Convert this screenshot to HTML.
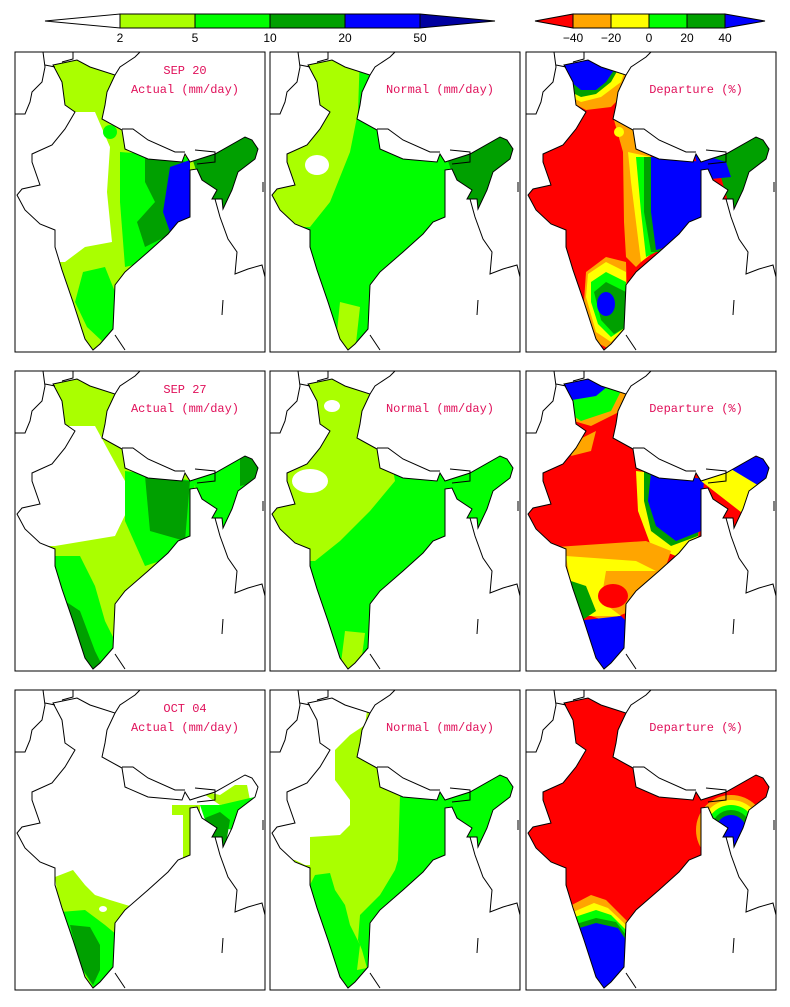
<!DOCTYPE html>
<html><head><meta charset="utf-8"><style>
body{margin:0;background:#fff;}
svg{display:block;font-family:"Liberation Mono","DejaVu Sans Mono",monospace;}
.t{fill:#e0105a;font-size:12px;text-anchor:middle;}
.cb{font-size:12px;fill:#000;text-anchor:middle;font-family:"Liberation Sans",sans-serif;}
.ol{fill:none;stroke:#000;stroke-width:1;}
</style></head><body>
<svg width="790" height="1007" viewBox="0 0 790 1007" xmlns="http://www.w3.org/2000/svg">
<defs>
<path id="ind" d="M38,13 L62,8 L75,15 L100,23 L92,40 L90,53 L87,67 L107,78 L110,97 L133,107 L167,110 L170,102 L175,110 L200,102 L230,85 L237,88 L243,97 L240,107 L223,120 L217,138 L208,157 L207,147 L197,147 L202,138 L187,128 L182,117 L175,118 L175,165 L163,170 L153,182 L133,200 L110,220 L100,233 L98,277 L85,292 L78,298 L70,287 L58,250 L47,218 L40,195 L40,178 L25,172 L10,158 L2,143 L7,137 L25,133 L17,110 L17,102 L37,93 L50,77 L60,60 L50,53 L47,30 Z"/>
<clipPath id="cl"><use href="#ind"/></clipPath>
<g id="nb">
<path class="ol" d="M0,62 L10,62 L15,50 L17,40 L27,30 L30,15 L28,0 M30,13 L40,15 M58,0 L58,7 L47,10 M100,23 L105,15 L120,5 L125,0 M107,77 L118,77 L133,88 L160,100 L170,100 M180,98 L200,100 L200,110 L182,112 M200,147 L205,165 L213,187 L222,200 L220,222 L233,217 L247,213 L250,225 M248,130 L248,140 M208,248 L207,263 M100,283 L110,298"/>
</g>
</defs>

<!-- colorbars -->
<polygon points="45,21 120,14 120,28" fill="#fff" stroke="#000"/>
<rect x="120" y="14" width="75" height="14" fill="#aaff00" stroke="#000"/>
<rect x="195" y="14" width="75" height="14" fill="#00ff00" stroke="#000"/>
<rect x="270" y="14" width="75" height="14" fill="#00a000" stroke="#000"/>
<rect x="345" y="14" width="75" height="14" fill="#0000ff" stroke="#000"/>
<polygon points="420,14 495,21 420,28" fill="#0000a0" stroke="#000"/>
<text class="cb" x="120" y="42">2</text><text class="cb" x="195" y="42">5</text><text class="cb" x="270" y="42">10</text><text class="cb" x="345" y="42">20</text><text class="cb" x="420" y="42">50</text>
<polygon points="535,21 573,14 573,28" fill="#ff0000" stroke="#000"/>
<rect x="573" y="14" width="38" height="14" fill="#ffa500" stroke="#000"/>
<rect x="611" y="14" width="38" height="14" fill="#ffff00" stroke="#000"/>
<rect x="649" y="14" width="38" height="14" fill="#00ff00" stroke="#000"/>
<rect x="687" y="14" width="38" height="14" fill="#00a000" stroke="#000"/>
<polygon points="725,14 765,21 725,28" fill="#0000ff" stroke="#000"/>
<text class="cb" x="573" y="42">−40</text><text class="cb" x="611" y="42">−20</text><text class="cb" x="649" y="42">0</text><text class="cb" x="687" y="42">20</text><text class="cb" x="725" y="42">40</text>

<!-- Row 1 -->
<g transform="translate(15,52)">
<g clip-path="url(#cl)">
<rect width="250" height="300" fill="#aaff00"/>
<path d="M0,60 L80,60 L95,95 L92,140 L97,190 L70,195 L50,210 L0,210 Z" fill="#fff"/>
<path d="M105,100 L175,105 L175,200 L110,215 L105,150 Z" fill="#00ff00"/>
<path d="M130,105 L175,110 L160,180 L130,195 L122,170 L140,150 L130,130 Z" fill="#00a000"/>
<path d="M155,115 L175,108 L175,165 L155,180 L148,160 Z" fill="#0000ff"/>
<path d="M175,100 L250,80 L250,160 L205,160 L185,130 Z" fill="#00a000"/>
<path d="M68,220 L90,215 L100,240 L98,280 L88,290 L72,275 L60,250 Z" fill="#00ff00"/>
<circle cx="95" cy="80" r="7" fill="#00ff00"/>
</g>
<use href="#ind" class="ol"/><use href="#nb"/>
<text class="t" x="170" y="22">SEP 20</text><text class="t" x="170" y="41">Actual (mm/day)</text>
<rect x="0" y="0" width="250" height="300" fill="none" stroke="#000"/>
</g>
<g transform="translate(270,52)">
<g clip-path="url(#cl)">
<rect width="250" height="300" fill="#00ff00"/>
<path d="M0,0 L90,0 L88,60 L80,100 L60,150 L40,175 L0,175 Z" fill="#aaff00"/>
<ellipse cx="47" cy="113" rx="12" ry="10" fill="#fff"/>
<path d="M175,100 L250,80 L250,160 L205,160 L185,130 Z" fill="#00a000"/>
<path d="M70,250 L90,255 L85,300 L65,300 Z" fill="#aaff00"/>
</g>
<use href="#ind" class="ol"/><use href="#nb"/>
<text class="t" x="170" y="41">Normal (mm/day)</text>
<rect x="0" y="0" width="250" height="300" fill="none" stroke="#000"/>
</g>
<g transform="translate(526,52)">
<g clip-path="url(#cl)">
<rect width="250" height="300" fill="#ff0000"/>
<path d="M30,0 L110,0 L100,40 L85,55 L60,58 L45,50 Z" fill="#ffa500"/>
<path d="M30,0 L105,0 L95,30 L75,45 L55,50 L45,45 Z" fill="#ffff00"/>
<path d="M30,0 L102,0 L85,30 L70,42 L55,45 L45,40 Z" fill="#00a000"/>
<path d="M30,0 L100,0 L80,30 L70,38 L55,38 L45,30 Z" fill="#0000ff"/>
<path d="M88,68 L107,78 L125,105 L125,200 L110,215 L100,205 L98,170 L97,100 Z" fill="#ffa500"/>
<path d="M102,100 L125,105 L128,200 L115,210 L110,170 L105,130 Z" fill="#ffff00"/>
<path d="M110,105 L130,105 L130,200 L120,205 L115,160 Z" fill="#00ff00"/>
<path d="M118,105 L135,105 L135,200 L125,200 L118,160 Z" fill="#00a000"/>
<path d="M125,105 L178,110 L175,170 L160,190 L130,198 L125,160 Z" fill="#0000ff"/>
<circle cx="93" cy="80" r="5" fill="#ffff00"/>
<path d="M175,100 L250,80 L250,160 L205,160 L195,125 Z" fill="#00a000"/>
<path d="M168,100 L200,110 L205,125 L175,128 Z" fill="#0000ff"/>
<path d="M60,220 L80,205 L100,210 L102,280 L85,298 L70,290 L58,250 Z" fill="#ffa500"/>
<path d="M62,222 L80,210 L100,220 L100,275 L85,290 L70,280 L60,245 Z" fill="#ffff00"/>
<path d="M65,230 L80,220 L100,230 L100,275 L85,285 L72,272 L65,250 Z" fill="#00ff00"/>
<path d="M68,240 L80,230 L100,240 L100,275 L88,282 L75,268 Z" fill="#00a000"/>
<ellipse cx="80" cy="252" rx="9" ry="12" fill="#0000ff"/>
</g>
<use href="#ind" class="ol"/><use href="#nb"/>
<text class="t" x="170" y="41">Departure (%)</text>
<rect x="0" y="0" width="250" height="300" fill="none" stroke="#000"/>
</g>

<!-- Row 2 -->
<g transform="translate(15,371)">
<g clip-path="url(#cl)">
<rect width="250" height="300" fill="#aaff00"/>
<path d="M0,55 L80,55 L110,110 L112,140 L100,165 L40,175 L0,175 Z" fill="#fff"/>
<path d="M110,100 L180,110 L175,180 L130,195 L110,150 Z" fill="#00ff00"/>
<path d="M130,105 L175,110 L170,170 L135,160 Z" fill="#00a000"/>
<path d="M175,100 L250,80 L250,160 L205,160 L185,130 Z" fill="#00ff00"/>
<path d="M225,85 L250,80 L250,110 L225,115 Z" fill="#00a000"/>
<path d="M40,185 L65,185 L80,215 L90,250 L100,270 L90,300 L40,300 Z" fill="#00ff00"/>
<path d="M50,230 L65,240 L80,280 L90,300 L70,300 Z" fill="#00a000"/>
</g>
<use href="#ind" class="ol"/><use href="#nb"/>
<text class="t" x="170" y="22">SEP 27</text><text class="t" x="170" y="41">Actual (mm/day)</text>
<rect x="0" y="0" width="250" height="300" fill="none" stroke="#000"/>
</g>
<g transform="translate(270,371)">
<g clip-path="url(#cl)">
<rect width="250" height="300" fill="#00ff00"/>
<path d="M0,0 L110,0 L120,80 L125,110 L100,140 L70,170 L45,190 L0,190 Z" fill="#aaff00"/>
<ellipse cx="40" cy="110" rx="18" ry="12" fill="#fff"/>
<ellipse cx="62" cy="35" rx="8" ry="6" fill="#fff"/>
<path d="M75,260 L95,262 L90,300 L70,300 Z" fill="#aaff00"/>
</g>
<use href="#ind" class="ol"/><use href="#nb"/>
<text class="t" x="170" y="41">Normal (mm/day)</text>
<rect x="0" y="0" width="250" height="300" fill="none" stroke="#000"/>
</g>
<g transform="translate(526,371)">
<g clip-path="url(#cl)">
<rect width="250" height="300" fill="#ff0000"/>
<path d="M0,0 L110,0 L95,40 L65,55 L30,45 Z" fill="#ffa500"/>
<path d="M0,0 L105,0 L85,40 L55,50 L40,40 Z" fill="#00ff00"/>
<path d="M0,0 L100,0 L70,25 L40,30 Z" fill="#0000ff"/>
<path d="M50,70 L70,60 L65,80 L45,85 Z" fill="#ffa500"/>
<path d="M110,100 L175,108 L172,170 L150,185 L125,175 L112,140 Z" fill="#ffff00"/>
<path d="M118,100 L178,108 L172,165 L145,175 L125,160 L118,130 Z" fill="#00a000"/>
<path d="M125,102 L178,108 L175,160 L150,170 L130,155 L122,130 Z" fill="#0000ff"/>
<path d="M175,110 L250,80 L250,140 L220,145 Z" fill="#ffff00"/>
<path d="M200,95 L250,80 L250,125 Z" fill="#0000ff"/>
<path d="M0,178 L120,170 L145,180 L135,210 L105,240 L80,250 L50,240 L30,210 L0,200 Z" fill="#ffa500"/>
<path d="M40,185 L110,190 L130,200 L80,200 L75,230 L95,245 L60,245 L45,215 Z" fill="#ffff00"/>
<path d="M45,210 L60,215 L70,240 L55,250 Z" fill="#00a000"/>
<ellipse cx="87" cy="225" rx="15" ry="12" fill="#ff0000"/>
<path d="M50,250 L95,245 L105,255 L100,300 L50,300 Z" fill="#0000ff"/>
</g>
<use href="#ind" class="ol"/><use href="#nb"/>
<text class="t" x="170" y="41">Departure (%)</text>
<rect x="0" y="0" width="250" height="300" fill="none" stroke="#000"/>
</g>

<!-- Row 3 -->
<g transform="translate(15,690)">
<g clip-path="url(#cl)">
<rect width="250" height="300" fill="#fff"/>
<path d="M157,115 L185,115 L185,170 L168,170 L168,125 L157,125 Z" fill="#aaff00"/>
<path d="M183,100 L205,105 L220,95 L232,95 L235,110 L205,115 Z" fill="#aaff00"/>
<path d="M185,115 L205,115 L235,108 L240,107 L223,120 L217,140 L200,135 L190,130 Z" fill="#00ff00"/>
<path d="M190,128 L205,122 L215,130 L210,160 L195,145 Z" fill="#00a000"/>
<path d="M40,187 L58,180 L70,195 L80,205 L95,210 L118,217 L100,235 L98,280 L80,300 L50,260 Z" fill="#aaff00"/>
<ellipse cx="88" cy="219" rx="4" ry="3" fill="#fff"/>
<path d="M45,222 L70,220 L90,235 L102,245 L100,285 L80,300 L55,260 Z" fill="#00ff00"/>
<path d="M55,235 L75,237 L85,255 L85,280 L78,295 L65,275 Z" fill="#00a000"/>
</g>
<use href="#ind" class="ol"/><use href="#nb"/>
<text class="t" x="170" y="22">OCT 04</text><text class="t" x="170" y="41">Actual (mm/day)</text>
<rect x="0" y="0" width="250" height="300" fill="none" stroke="#000"/>
</g>
<g transform="translate(270,690)">
<g clip-path="url(#cl)">
<rect width="250" height="300" fill="#00ff00"/>
<path d="M0,0 L100,0 L107,78 L130,105 L128,170 L125,180 L110,205 L100,215 L90,225 L88,250 L92,260 L97,278 L87,280 L90,255 L80,235 L75,215 L65,200 L60,183 L45,185 L40,195 L0,195 Z" fill="#aaff00"/>
<path d="M0,0 L100,0 L95,35 L80,45 L65,60 L65,90 L80,110 L80,135 L70,145 L40,147 L40,175 L35,175 L25,170 L0,170 Z" fill="#fff"/>
</g>
<use href="#ind" class="ol"/><use href="#nb"/>
<text class="t" x="170" y="41">Normal (mm/day)</text>
<rect x="0" y="0" width="250" height="300" fill="none" stroke="#000"/>
</g>
<g transform="translate(526,690)">
<g clip-path="url(#cl)">
<rect width="250" height="300" fill="#ff0000"/>
<circle cx="205" cy="140" r="35" fill="#ffa500"/>
<circle cx="205" cy="140" r="30" fill="#ffff00"/>
<circle cx="205" cy="140" r="25" fill="#00ff00"/>
<circle cx="205" cy="140" r="20" fill="#00a000"/>
<circle cx="205" cy="140" r="15" fill="#0000ff"/>
<path d="M40,218 L65,205 L80,210 L100,230 L110,240 L110,300 L40,300 Z" fill="#ffa500"/>
<path d="M40,225 L68,213 L82,218 L100,235 L110,245 L110,300 L40,300 Z" fill="#ffff00"/>
<path d="M40,230 L70,220 L85,225 L100,240 L110,250 L110,300 L40,300 Z" fill="#00ff00"/>
<path d="M40,237 L70,228 L90,232 L100,245 L110,255 L110,300 L40,300 Z" fill="#00a000"/>
<path d="M40,242 L70,233 L92,238 L100,250 L110,260 L110,300 L40,300 Z" fill="#0000ff"/>
</g>
<use href="#ind" class="ol"/><use href="#nb"/>
<text class="t" x="170" y="41">Departure (%)</text>
<rect x="0" y="0" width="250" height="300" fill="none" stroke="#000"/>
</g>
</svg>
</body></html>
